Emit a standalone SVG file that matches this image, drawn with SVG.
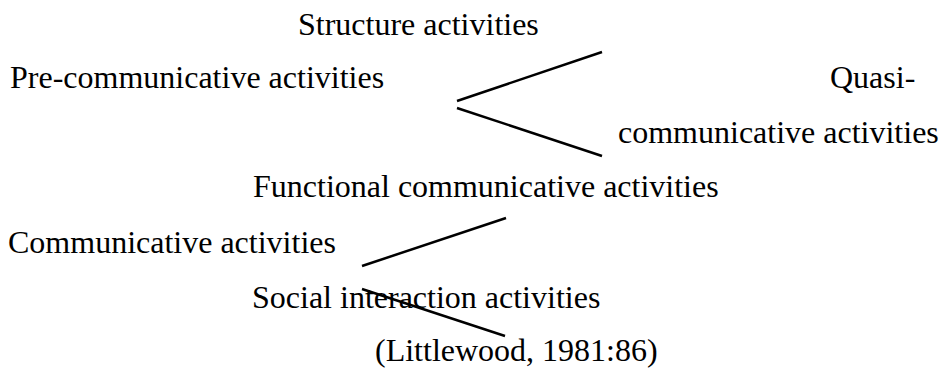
<svg xmlns="http://www.w3.org/2000/svg" width="944" height="371" viewBox="0 0 944 371">
<style>
text{font-family:"Liberation Serif","Times New Roman",serif;font-size:32px;fill:#000}
.c{stroke:#000;stroke-width:2.5;fill:none}
</style>
<rect width="944" height="371" fill="#fff"/>
<g id="n-structure"><text x="298" y="35">Structure activities</text></g>
<g id="n-pre"><text x="10" y="88">Pre-communicative activities</text></g>
<g id="n-quasi"><text x="830" y="88">Quasi-</text><text x="618" y="143">communicative activities</text></g>
<g id="n-functional"><text x="253" y="197">Functional communicative activities</text></g>
<g id="n-communicative"><text x="8" y="253">Communicative activities</text></g>
<g id="n-social"><text x="252" y="308">Social interaction activities</text></g>
<g id="n-source"><text x="375" y="361">(Littlewood, 1981:86)</text></g>
<g id="connectors">
<line class="c" x1="457" y1="101" x2="602" y2="52"/>
<line class="c" x1="457" y1="108" x2="602" y2="156"/>
<line class="c" x1="362" y1="266" x2="506" y2="218"/>
<line class="c" x1="362" y1="289" x2="505" y2="336"/>
</g>
</svg>
